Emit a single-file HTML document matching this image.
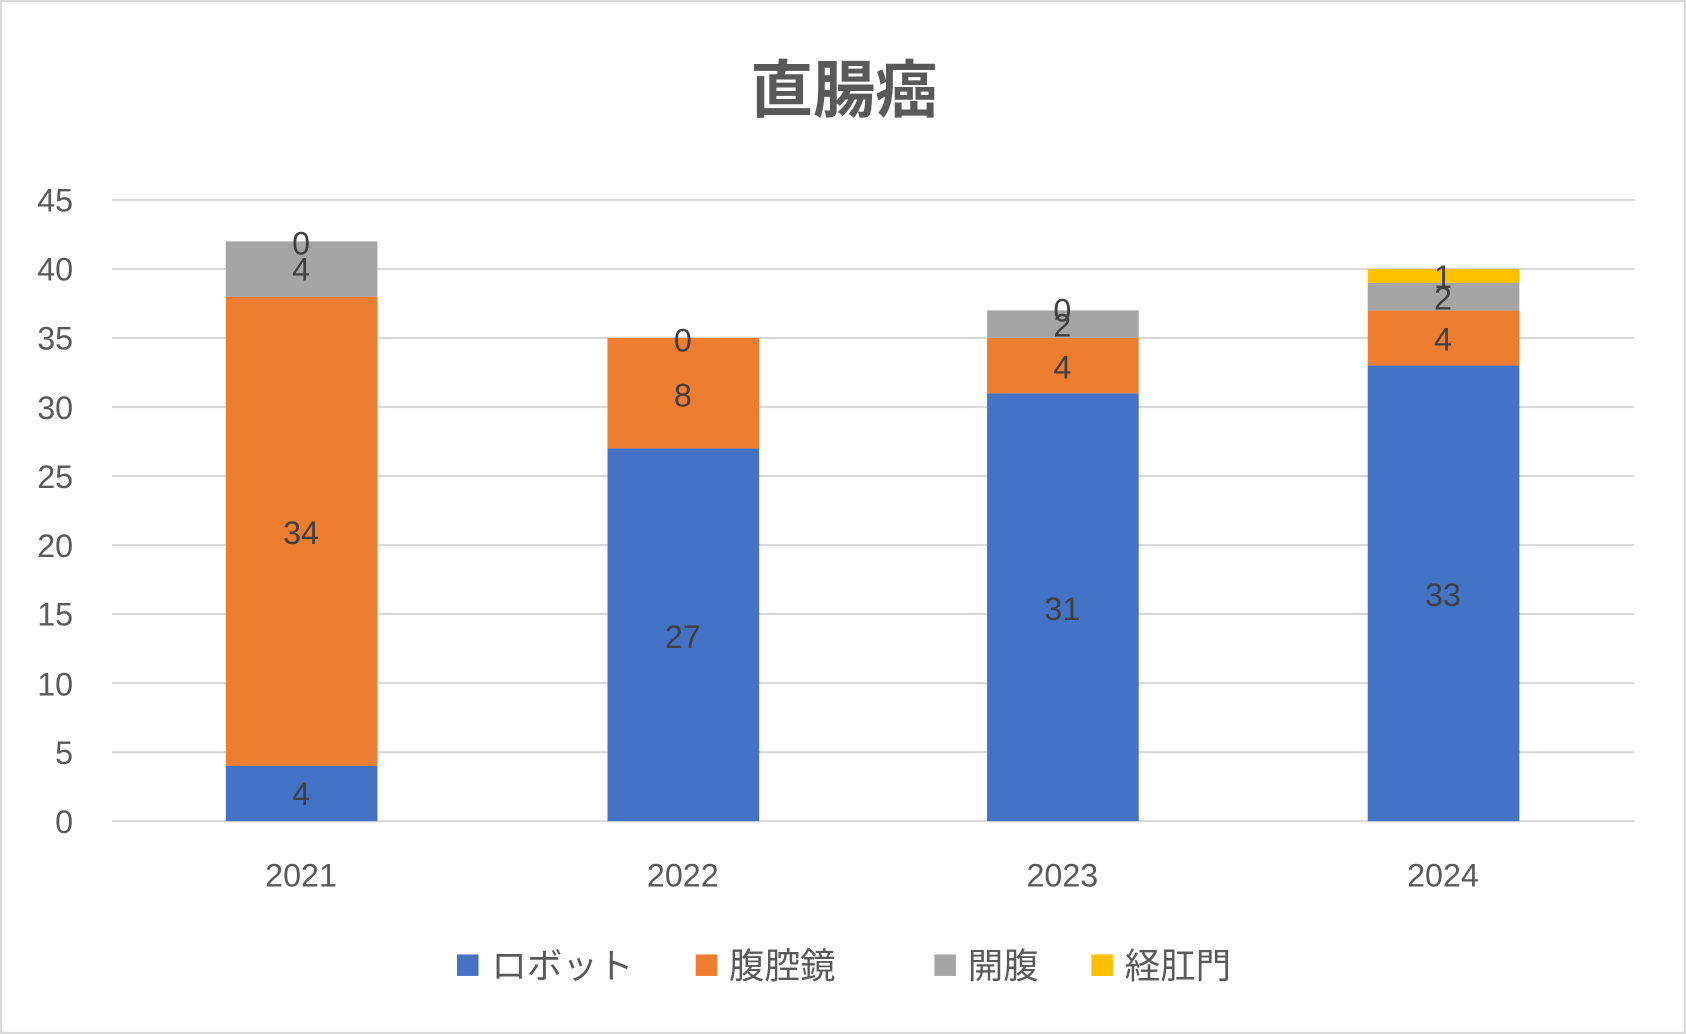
<!DOCTYPE html>
<html><head><meta charset="utf-8"><style>
html,body{margin:0;padding:0;background:#fff;}
svg{display:block;}
text{font-family:"Liberation Sans","Noto Sans CJK JP",sans-serif;}
</style></head><body>
<svg width="1686" height="1034" viewBox="0 0 1568 962" preserveAspectRatio="none">
<rect x="1" y="1" width="1566" height="960" fill="#fff" stroke="#d9d9d9" stroke-width="2"/>
<text x="785" y="104" text-anchor="middle" font-size="58" font-weight="bold" fill="#595959" font-family="'Noto Sans CJK JP',sans-serif">直腸癌</text>
<g stroke="#d9d9d9" stroke-width="2">
<line x1="104" y1="186" x2="1520" y2="186"/>
<line x1="104" y1="250.2" x2="1520" y2="250.2"/>
<line x1="104" y1="314.4" x2="1520" y2="314.4"/>
<line x1="104" y1="378.7" x2="1520" y2="378.7"/>
<line x1="104" y1="442.9" x2="1520" y2="442.9"/>
<line x1="104" y1="507.1" x2="1520" y2="507.1"/>
<line x1="104" y1="571.3" x2="1520" y2="571.3"/>
<line x1="104" y1="635.6" x2="1520" y2="635.6"/>
<line x1="104" y1="699.8" x2="1520" y2="699.8"/>
<line x1="104" y1="764" x2="1520" y2="764"/>
</g>
<g font-size="30" fill="#595959" text-anchor="end">
<text x="68" y="197">45</text><text x="68" y="261">40</text><text x="68" y="325">35</text>
<text x="68" y="390">30</text><text x="68" y="454">25</text><text x="68" y="518">20</text>
<text x="68" y="582">15</text><text x="68" y="647">10</text><text x="68" y="711">5</text>
<text x="68" y="775">0</text>
</g>
<rect x="210" y="712.6" width="141" height="51.4" fill="#4472c4"/>
<rect x="210" y="276" width="141" height="436.6" fill="#ed7d31"/>
<rect x="210" y="224.6" width="141" height="51.4" fill="#a5a5a5"/>
<rect x="565" y="417.2" width="141" height="346.8" fill="#4472c4"/>
<rect x="565" y="314.4" width="141" height="102.8" fill="#ed7d31"/>
<rect x="918" y="365.9" width="141" height="398.1" fill="#4472c4"/>
<rect x="918" y="314.4" width="141" height="51.5" fill="#ed7d31"/>
<rect x="918" y="288.8" width="141" height="25.6" fill="#a5a5a5"/>
<rect x="1272" y="340.1" width="141" height="423.9" fill="#4472c4"/>
<rect x="1272" y="288.8" width="141" height="51.3" fill="#ed7d31"/>
<rect x="1272" y="263.1" width="141" height="25.7" fill="#a5a5a5"/>
<rect x="1272" y="250.2" width="141" height="12.9" fill="#ffc000"/>
<g font-size="30" fill="#404040" text-anchor="middle">
<text x="280" y="749">4</text><text x="280" y="506">34</text><text x="280" y="261">4</text><text x="280" y="237">0</text>
<text x="635" y="603">27</text><text x="635" y="378">8</text><text x="635" y="327">0</text>
<text x="988" y="577">31</text><text x="988" y="352">4</text><text x="988" y="313">2</text><text x="988" y="299">0</text>
<text x="1342" y="564">33</text><text x="1342" y="326">4</text><text x="1342" y="288">2</text><text x="1342" y="268">1</text>
</g>
<g font-size="30" fill="#595959" text-anchor="middle">
<text x="280" y="825">2021</text><text x="635" y="825">2022</text><text x="988" y="825">2023</text><text x="1342" y="825">2024</text>
</g>
<g font-size="33" fill="#595959">
<rect x="425" y="888" width="20" height="20" fill="#4472c4"/><text x="457" y="910">ロボット</text>
<rect x="647" y="888" width="20" height="20" fill="#ed7d31"/><text x="678" y="910">腹腔鏡</text>
<rect x="869" y="888" width="20" height="20" fill="#a5a5a5"/><text x="900" y="910">開腹</text>
<rect x="1015" y="888" width="20" height="20" fill="#ffc000"/><text x="1046" y="910">経肛門</text>
</g>
</svg>
</body></html>
